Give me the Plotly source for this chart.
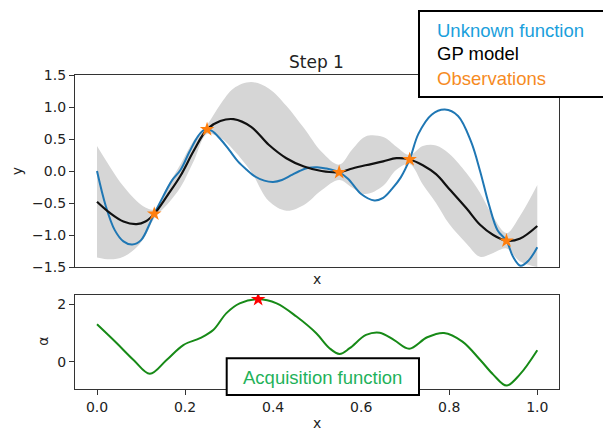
import plotly.graph_objects as go

# ---- data -------------------------------------------------------------
# hidden objective
x_true = [0.00, 0.02, 0.04, 0.06, 0.08, 0.10, 0.12, 0.13, 0.15, 0.17, 0.19, 0.21, 0.23,
          0.245, 0.26, 0.28, 0.30, 0.32, 0.34, 0.36, 0.38, 0.40, 0.42, 0.44, 0.46, 0.48,
          0.50, 0.52, 0.55, 0.57, 0.60, 0.63, 0.65, 0.67, 0.69, 0.71, 0.73, 0.76, 0.79,
          0.82, 0.85, 0.87, 0.89, 0.91, 0.93, 0.945, 0.962, 0.98, 1.00]
y_true = [0.00, -0.55, -0.92, -1.10, -1.15, -1.08, -0.82, -0.67, -0.40, -0.15, 0.02, 0.30, 0.55,
          0.65, 0.63, 0.50, 0.33, 0.15, 0.02, -0.09, -0.15, -0.17, -0.14, -0.07, 0.00, 0.05,
          0.06, 0.04, -0.02, -0.12, -0.36, -0.46, -0.42, -0.28, -0.10, 0.18, 0.58, 0.88, 0.96,
          0.86, 0.45, 0.00, -0.52, -0.93, -1.09, -1.34, -1.48, -1.40, -1.19]

# GP posterior: mean and 2-sigma half width
x_gp = [0.00, 0.03, 0.06, 0.09, 0.11, 0.13, 0.16, 0.19, 0.22, 0.25, 0.28, 0.31, 0.35, 0.39,
        0.43, 0.47, 0.51, 0.55, 0.58, 0.61, 0.65, 0.68, 0.71, 0.74, 0.77, 0.80, 0.84, 0.87,
        0.90, 0.93, 0.96, 1.00]
gp_mean = [-0.48, -0.66, -0.79, -0.83, -0.79, -0.67, -0.38, -0.07, 0.32, 0.65, 0.78, 0.81,
           0.69, 0.41, 0.20, 0.07, 0.00, -0.02, 0.04, 0.09, 0.15, 0.20, 0.18, 0.09, -0.05,
           -0.28, -0.59, -0.84, -1.00, -1.09, -1.06, -0.86]
gp_band = [0.87, 0.72, 0.55, 0.36, 0.22, 0.07, 0.14, 0.18, 0.16, 0.07, 0.26, 0.48, 0.70, 0.88,
           0.82, 0.60, 0.30, 0.12, 0.30, 0.45, 0.38, 0.18, 0.07, 0.30, 0.45, 0.55, 0.55, 0.50,
           0.28, 0.12, 0.35, 0.64]

# sampled points
x_obs = [0.13, 0.25, 0.55, 0.71, 0.93]
y_obs = [-0.67, 0.65, -0.02, 0.18, -1.09]

# acquisition function
x_acq = [0.00, 0.045, 0.083, 0.12, 0.158, 0.196, 0.234, 0.264, 0.294, 0.324, 0.366, 0.408,
         0.453, 0.498, 0.528, 0.551, 0.574, 0.611, 0.642, 0.675, 0.709, 0.75, 0.788, 0.83,
         0.871, 0.90, 0.93, 0.96, 1.00]
y_acq = [1.30, 0.64, 0.06, -0.42, 0.06, 0.58, 0.82, 1.10, 1.69, 2.03, 2.17, 2.03,
         1.57, 0.99, 0.47, 0.27, 0.47, 0.93, 1.01, 0.75, 0.45, 0.85, 1.00, 0.70,
         0.05, -0.45, -0.83, -0.45, 0.40]

x_next = [0.366]
a_next = [2.17]

y_ticks = [-1.5, -1.0, -0.5, 0.0, 0.5, 1.0, 1.5]
x_ticks = [0.0, 0.2, 0.4, 0.6, 0.8, 1.0]
a_ticks = [0, 2]

legend_lines = ["Unknown function", "GP model", "Observations"]
legend_colors = ["#1aa0dc", "#000000", "#f68b1f"]

# ---- geometry helpers (pixel -> paper) ---------------------------------
W, H = 603, 430


def px(x):
    return x / W


def py(y):
    return 1 - y / H


def fmt(v):
    s = f"{v:.1f}"
    return s.replace("-", "\u2212")


upper = [m + b for m, b in zip(gp_mean, gp_band)]
lower = [m - b for m, b in zip(gp_mean, gp_band)]

fig = go.Figure()

# confidence band
fig.add_trace(go.Scatter(x=x_gp, y=upper, mode="lines", line=dict(width=0, shape="spline"),
                         hoverinfo="skip", showlegend=False, xaxis="x", yaxis="y"))
fig.add_trace(go.Scatter(x=x_gp, y=lower, mode="lines", line=dict(width=0, shape="spline"),
                         fill="tonexty", fillcolor="#d6d6d6", hoverinfo="skip",
                         showlegend=False, xaxis="x", yaxis="y"))
# objective
fig.add_trace(go.Scatter(x=x_true, y=y_true, mode="lines",
                         line=dict(color="#1f77b4", width=2, shape="spline"),
                         showlegend=False, xaxis="x", yaxis="y"))
# GP mean
fig.add_trace(go.Scatter(x=x_gp, y=gp_mean, mode="lines",
                         line=dict(color="#111111", width=2.2, shape="spline"),
                         showlegend=False, xaxis="x", yaxis="y"))
# observations
fig.add_trace(go.Scatter(x=x_obs, y=y_obs, mode="markers",
                         marker=dict(symbol="star", size=11, color="#ff7f0e", line=dict(width=0)),
                         showlegend=False, xaxis="x", yaxis="y"))

# acquisition
fig.add_trace(go.Scatter(x=x_acq, y=y_acq, mode="lines",
                         line=dict(color="#178a17", width=2, shape="spline"),
                         showlegend=False, xaxis="x2", yaxis="y2"))
fig.add_trace(go.Scatter(x=x_next, y=a_next, mode="markers",
                         marker=dict(symbol="star", size=11, color="red", line=dict(width=0)),
                         showlegend=False, xaxis="x2", yaxis="y2"))

x_dom = [px(75), px(559.3)]
axis_common = dict(showline=True, mirror=True, linecolor="#333333", linewidth=1.3,
                   showgrid=False, zeroline=False, automargin=False,
                   tickfont=dict(family="DejaVu Sans", size=14, color="#222222"),
                   tickcolor="#333333", tickwidth=1.3, ticklen=5)

fig.update_layout(
    width=W, height=H,
    margin=dict(l=0, r=0, t=0, b=0, pad=0, autoexpand=False),
    paper_bgcolor="white", plot_bgcolor="white",
    xaxis=dict(domain=x_dom, range=[-0.05, 1.05], anchor="y", ticks="",
               showticklabels=False, **axis_common),
    yaxis=dict(domain=[py(267), py(75)], range=[-1.5, 1.5], anchor="x",
               tickvals=y_ticks, ticktext=[fmt(v) for v in y_ticks], ticks="outside",
               **axis_common),
    xaxis2=dict(domain=x_dom, range=[-0.05, 1.05], anchor="y2",
                tickvals=x_ticks, ticktext=[fmt(v) for v in x_ticks], ticks="outside",
                **axis_common),
    yaxis2=dict(domain=[py(389.3), py(295)], range=[-0.96, 2.32], anchor="x2",
                tickvals=a_ticks, ticktext=[str(v) for v in a_ticks], ticks="outside",
                **axis_common),
)

mpl_font = dict(family="DejaVu Sans", size=14, color="#222222")
notes = [
    dict(text="Step 1", x=px(316.7), y=py(61.7), font=dict(family="DejaVu Sans", size=17, color="#222222")),
    dict(text="x", x=px(316.7), y=py(278.5), font=mpl_font),
    dict(text="x", x=px(316.7), y=py(422.5), font=mpl_font),
    dict(text="y", x=px(16.7), y=py(171.5), font=mpl_font, textangle=-90),
    dict(text="\u03b1", x=px(43), y=py(341.7), font=mpl_font, textangle=-90),
]
for n in notes:
    fig.add_annotation(xref="paper", yref="paper", showarrow=False,
                       xanchor="center", yanchor="middle", **n)

# framed legend text
fig.add_shape(type="rect", xref="paper", yref="paper",
              x0=px(419), x1=px(640), y0=py(97), y1=py(11),
              fillcolor="white", line=dict(color="black", width=2), layer="above")
for i, (t, c) in enumerate(zip(legend_lines, legend_colors)):
    fig.add_annotation(xref="paper", yref="paper", showarrow=False,
                       x=px(435), y=py(30 + 24 * i), xanchor="left", yanchor="middle",
                       text=t, font=dict(family="Liberation Sans", size=18.5, color=c))

fig.add_shape(type="rect", xref="paper", yref="paper",
              x0=px(226.7), x1=px(419), y0=py(395), y1=py(358.3),
              fillcolor="white", line=dict(color="black", width=2), layer="above")
fig.add_annotation(xref="paper", yref="paper", showarrow=False,
                   x=px(322.8), y=py(377.5), xanchor="center", yanchor="middle",
                   text="Acquisition function",
                   font=dict(family="Liberation Sans", size=18.5, color="#1fb25a"))

fig.write_html("out.html")
